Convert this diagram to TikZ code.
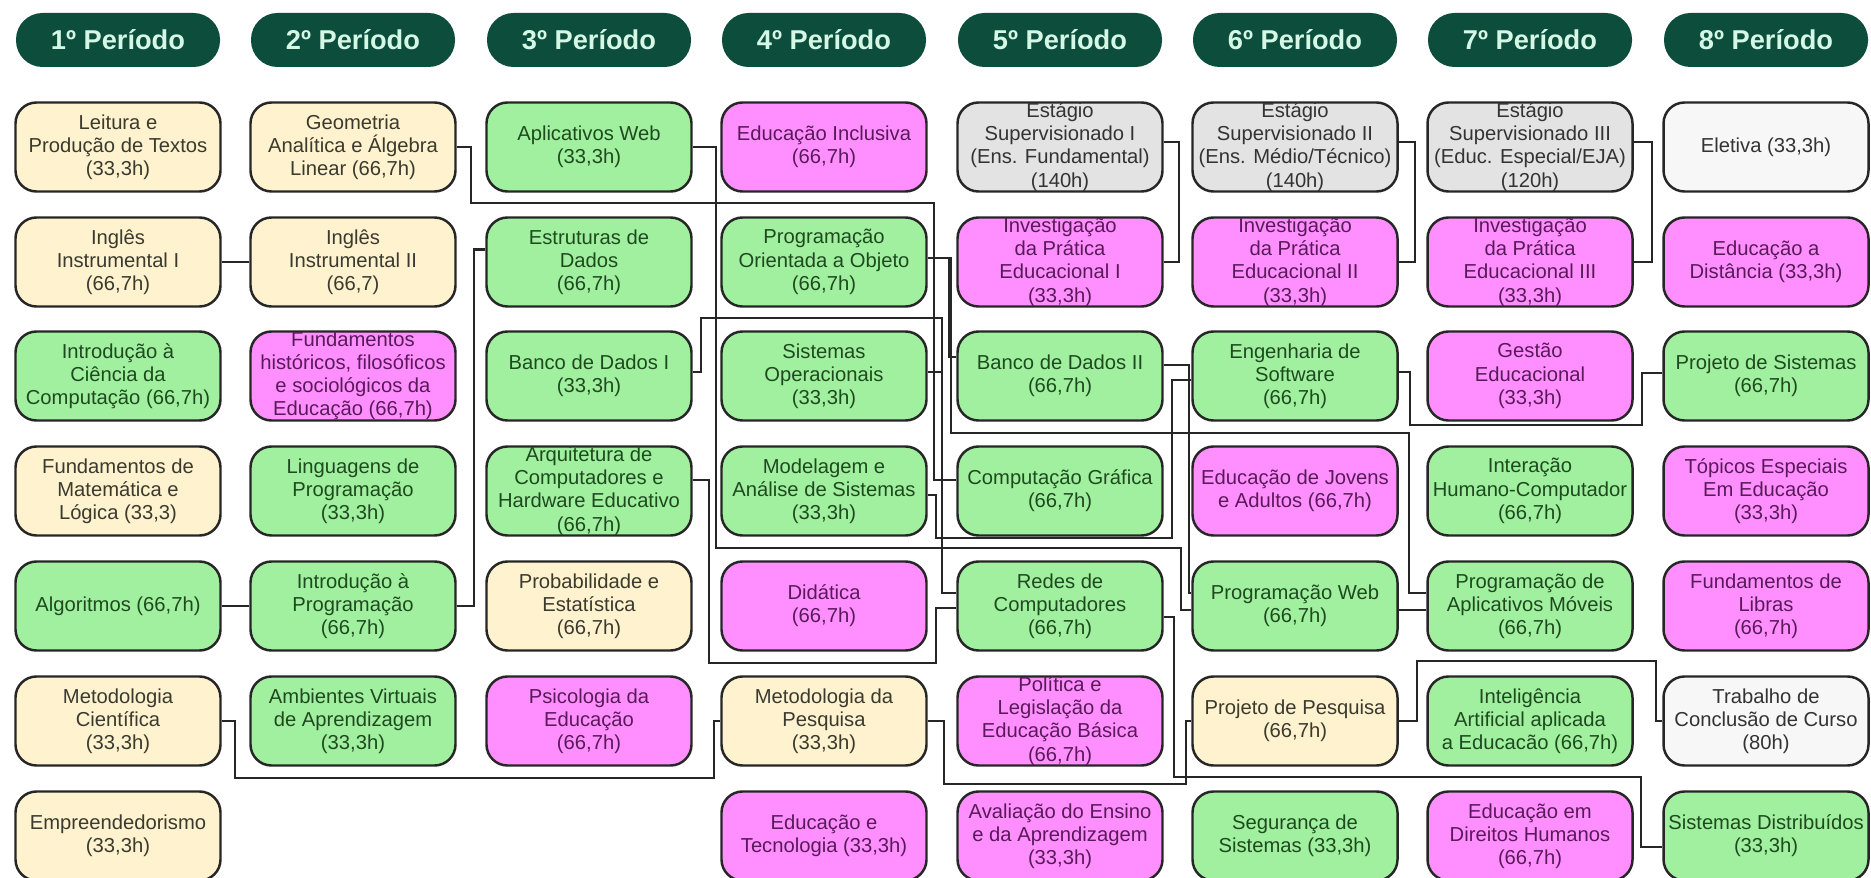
\documentclass[tikz,border=0pt]{standalone}
\usepackage{fontspec}
\setmainfont{Liberation Sans}
\usepackage{tikz}
\usetikzlibrary{calc}

\definecolor{hdrgreen}{HTML}{0D4D3C}
\definecolor{hdrtext}{HTML}{D5F7E6}
\definecolor{creamfill}{HTML}{FFF2CF}
\definecolor{greenfill}{HTML}{A0F0A0}
\definecolor{pinkfill}{HTML}{FF8FFF}
\definecolor{grayfill}{HTML}{E3E3E3}
\definecolor{whitefill}{HTML}{F7F7F7}
\definecolor{creamtext}{HTML}{3A3A2E}
\definecolor{greentext}{HTML}{1F4A1F}
\definecolor{pinktext}{HTML}{5A1A5A}
\definecolor{graytext}{HTML}{333333}

\begin{document}
\begin{tikzpicture}[
  period/.style={fill=hdrgreen, rounded corners=0.53cm, minimum width=4.08cm, minimum height=1.08cm, inner sep=0pt, text=hdrtext, font=\fontsize{15.5}{18}\selectfont\bfseries},
  course/.style={draw=black!85, line width=1.4pt, rounded corners=0.42cm, minimum width=4.1cm, minimum height=1.78cm, inner sep=0pt, align=center, font=\fontsize{11.5}{13.2}\selectfont},
  cream/.style={course, fill=creamfill, text=creamtext},
  green/.style={course, fill=greenfill, text=greentext},
  pink/.style={course, fill=pinkfill, text=pinktext},
  gray/.style={course, fill=grayfill, text=graytext},
  blank/.style={course, fill=whitefill, text=graytext},
  link/.style={draw=black!85, line width=1.2pt}
]
\useasboundingbox[fill=white] (0,0) rectangle (37.42,-17.56);

% periods
\node[period] (h1) at (2.36,-0.8) {1º Período};
\node[period] (h2) at (7.06,-0.8) {2º Período};
\node[period] (h3) at (11.78,-0.8) {3º Período};
\node[period] (h4) at (16.48,-0.8) {4º Período};
\node[period] (h5) at (21.20,-0.8) {5º Período};
\node[period] (h6) at (25.90,-0.8) {6º Período};
\node[period] (h7) at (30.60,-0.8) {7º Período};
\node[period] (h8) at (35.32,-0.8) {8º Período};

% 1st period
\node[cream] (leitura) at (2.36,-2.94) {Leitura e\\Produção de Textos\\(33,3h)};
\node[cream] (ingles1) at (2.36,-5.24) {Inglês\\Instrumental I\\(66,7h)};
\node[green] (intcc) at (2.36,-7.52) {Introdução à\\Ciência da\\Computação (66,7h)};
\node[cream] (fundmat) at (2.36,-9.82) {Fundamentos de\\Matemática e\\Lógica (33,3)};
\node[green] (algoritmos) at (2.36,-12.12) {Algoritmos (66,7h)};
\node[cream] (metcient) at (2.36,-14.42) {Metodologia\\Científica\\(33,3h)};
\node[cream] (empreend) at (2.36,-16.72) {Empreendedorismo\\(33,3h)};

% 2nd period
\node[cream] (geometria) at (7.06,-2.94) {Geometria\\Analítica e Álgebra\\Linear (66,7h)};
\node[cream] (ingles2) at (7.06,-5.24) {Inglês\\Instrumental II\\(66,7)};
\node[pink] (fundhist) at (7.06,-7.52) {Fundamentos\\históricos, filosóficos\\e sociológicos da\\Educação (66,7h)};
\node[green] (linguagens) at (7.06,-9.82) {Linguagens de\\Programação\\(33,3h)};
\node[green] (introprog) at (7.06,-12.12) {Introdução à\\Programação\\(66,7h)};
\node[green] (ava) at (7.06,-14.42) {Ambientes Virtuais\\de Aprendizagem\\(33,3h)};

% 3rd period
\node[green] (aplweb) at (11.78,-2.94) {Aplicativos Web\\(33,3h)};
\node[green] (estruturas) at (11.78,-5.24) {Estruturas de\\Dados\\(66,7h)};
\node[green] (bd1) at (11.78,-7.52) {Banco de Dados I\\(33,3h)};
\node[green] (arquitetura) at (11.78,-9.82) {Arquitetura de\\Computadores e\\Hardware Educativo\\(66,7h)};
\node[cream] (probest) at (11.78,-12.12) {Probabilidade e\\Estatística\\(66,7h)};
\node[pink] (psicologia) at (11.78,-14.42) {Psicologia da\\Educação\\(66,7h)};

% 4th period
\node[pink] (educincl) at (16.48,-2.94) {Educação Inclusiva\\(66,7h)};
\node[green] (poo) at (16.48,-5.24) {Programação\\Orientada a Objeto\\(66,7h)};
\node[green] (so) at (16.48,-7.52) {Sistemas\\Operacionais\\(33,3h)};
\node[green] (modelagem) at (16.48,-9.82) {Modelagem e\\Análise de Sistemas\\(33,3h)};
\node[pink] (didatica) at (16.48,-12.12) {Didática\\(66,7h)};
\node[cream] (metpesq) at (16.48,-14.42) {Metodologia da\\Pesquisa\\(33,3h)};
\node[pink] (eductec) at (16.48,-16.72) {Educação e\\Tecnologia (33,3h)};

% 5th period
\node[gray] (estagio1) at (21.20,-2.94) {Estágio\\Supervisionado I\\(Ens. Fundamental)\\(140h)};
\node[pink] (invest1) at (21.20,-5.24) {Investigação\\da Prática\\Educacional I\\(33,3h)};
\node[green] (bd2) at (21.20,-7.52) {Banco de Dados II\\(66,7h)};
\node[green] (compgraf) at (21.20,-9.82) {Computação Gráfica\\(66,7h)};
\node[green] (redes) at (21.20,-12.12) {Redes de\\Computadores\\(66,7h)};
\node[pink] (politica) at (21.20,-14.42) {Política e\\Legislação da\\Educação Básica\\(66,7h)};
\node[pink] (avaliacao) at (21.20,-16.72) {Avaliação do Ensino\\e da Aprendizagem\\(33,3h)};

% 6th period
\node[gray] (estagio2) at (25.90,-2.94) {Estágio\\Supervisionado II\\(Ens. Médio/Técnico)\\(140h)};
\node[pink] (invest2) at (25.90,-5.24) {Investigação\\da Prática\\Educacional II\\(33,3h)};
\node[green] (engsoft) at (25.90,-7.52) {Engenharia de\\Software\\(66,7h)};
\node[pink] (eja) at (25.90,-9.82) {Educação de Jovens\\e Adultos (66,7h)};
\node[green] (progweb) at (25.90,-12.12) {Programação Web\\(66,7h)};
\node[cream] (projpesq) at (25.90,-14.42) {Projeto de Pesquisa\\(66,7h)};
\node[green] (seguranca) at (25.90,-16.72) {Segurança de\\Sistemas (33,3h)};

% 7th period
\node[gray] (estagio3) at (30.60,-2.94) {Estágio\\Supervisionado III\\(Educ. Especial/EJA)\\(120h)};
\node[pink] (invest3) at (30.60,-5.24) {Investigação\\da Prática\\Educacional III\\(33,3h)};
\node[pink] (gestao) at (30.60,-7.52) {Gestão\\Educacional\\(33,3h)};
\node[green] (ihc) at (30.60,-9.82) {Interação\\Humano-Computador\\(66,7h)};
\node[green] (appmov) at (30.60,-12.12) {Programação de\\Aplicativos Móveis\\(66,7h)};
\node[green] (ia) at (30.60,-14.42) {Inteligência\\Artificial aplicada\\a Educacão (66,7h)};
\node[pink] (direitos) at (30.60,-16.72) {Educação em\\Direitos Humanos\\(66,7h)};

% 8th period
\node[blank] (eletiva) at (35.32,-2.94) {Eletiva (33,3h)};
\node[pink] (ead) at (35.32,-5.24) {Educação a\\Distância (33,3h)};
\node[green] (projsist) at (35.32,-7.52) {Projeto de Sistemas\\(66,7h)};
\node[pink] (topicos) at (35.32,-9.82) {Tópicos Especiais\\Em Educação\\(33,3h)};
\node[pink] (libras) at (35.32,-12.12) {Fundamentos de\\Libras\\(66,7h)};
\node[blank] (tcc) at (35.32,-14.42) {Trabalho de\\Conclusão de Curso\\(80h)};
\node[green] (sisdist) at (35.32,-16.72) {Sistemas Distribuídos\\(33,3h)};

% prerequisites
\draw[link] (ingles1.east) -- (ingles2.west);
\draw[link] (algoritmos.east) -- (introprog.west);
\draw[link] (introprog.east) -- ++(0.35,0) |- ([yshift=0.25cm]estruturas.west);
\draw[link] (metcient.east) -- ++(0.27,0) -- ++(0,-1.14) -| ([xshift=-0.13cm]metpesq.west) -- (metpesq.west);
\draw[link] (geometria.east) -- ++(0.29,0) -- ++(0,-1.12) -| ([xshift=-0.45cm,yshift=0.22cm]compgraf.west) -- ([yshift=0.22cm]compgraf.west);
\draw[link] (aplweb.east) -- ++(0.47,0) -- ++(0,-8.02) -| ([xshift=-0.21cm,yshift=-0.08cm]progweb.west) -- ([yshift=-0.08cm]progweb.west);
\draw[link] ([yshift=0.22cm]arquitetura.east) -- ++(0.33,0) -- ++(0,-3.66) -| ([xshift=-0.41cm,yshift=-0.04cm]redes.west) -- ([yshift=-0.04cm]redes.west);
\draw[link] ([yshift=0.08cm]bd1.east) -- ++(0.17,0) -- ++(0,1.08) -| ([xshift=-0.29cm,yshift=0.26cm]redes.west) -- ([yshift=0.26cm]redes.west);
\draw[link] ([yshift=0.08cm]so.east) -| ([xshift=-0.29cm,yshift=0.26cm]redes.west);
\draw[link] ([yshift=0.08cm]poo.east) -| ([xshift=-0.15cm,yshift=0.38cm]bd2.west) -- ([yshift=0.38cm]bd2.west);
\draw[link] ([yshift=0.08cm]poo.east) -- ++(0.47,0) -- ++(0,-3.5) -| ([xshift=-0.35cm,yshift=0.26cm]appmov.west) -- ([yshift=0.26cm]appmov.west);
\draw[link] ([yshift=-0.08cm]modelagem.east) -- ++(0.17,0) -- ++(0,-0.86) -| ([xshift=-0.39cm,yshift=-0.08cm]engsoft.west) -- ([yshift=-0.08cm]engsoft.west);
\draw[link] ([yshift=0.22cm]bd2.east) -| ([xshift=-0.05cm,yshift=0.26cm]progweb.west) -- ([yshift=0.26cm]progweb.west);
\draw[link] ([yshift=0.08cm]engsoft.east) -- ++(0.23,0) -- ++(0,-1.06) -| ([xshift=-0.41cm,yshift=0.06cm]projsist.west) -- ([yshift=0.06cm]projsist.west);
\draw[link] ([yshift=-0.22cm]redes.east) -- ++(0.21,0) -- ++(0,-3.2) -| ([xshift=-0.43cm,yshift=-0.22cm]sisdist.west) -- ([yshift=-0.22cm]sisdist.west);
\draw[link] (metpesq.east) -- ++(0.33,0) -- ++(0,-1.26) -| ([xshift=-0.11cm]projpesq.west) -- (projpesq.west);
\draw[link] (projpesq.east) -- ++(0.37,0) -- ++(0,1.2) -| ([xshift=-0.13cm]tcc.west) -- (tcc.west);
\draw[link] ([yshift=-0.08cm]progweb.east) -- ([yshift=-0.08cm]appmov.west);
\draw[link] ([yshift=0.1cm]estagio1.east) -- ++(0.31,0) |- (invest1.east);
\draw[link] ([yshift=0.1cm]estagio2.east) -- ++(0.33,0) |- (invest2.east);
\draw[link] ([yshift=0.1cm]estagio3.east) -- ++(0.37,0) |- (invest3.east);
\end{tikzpicture}
\end{document}
